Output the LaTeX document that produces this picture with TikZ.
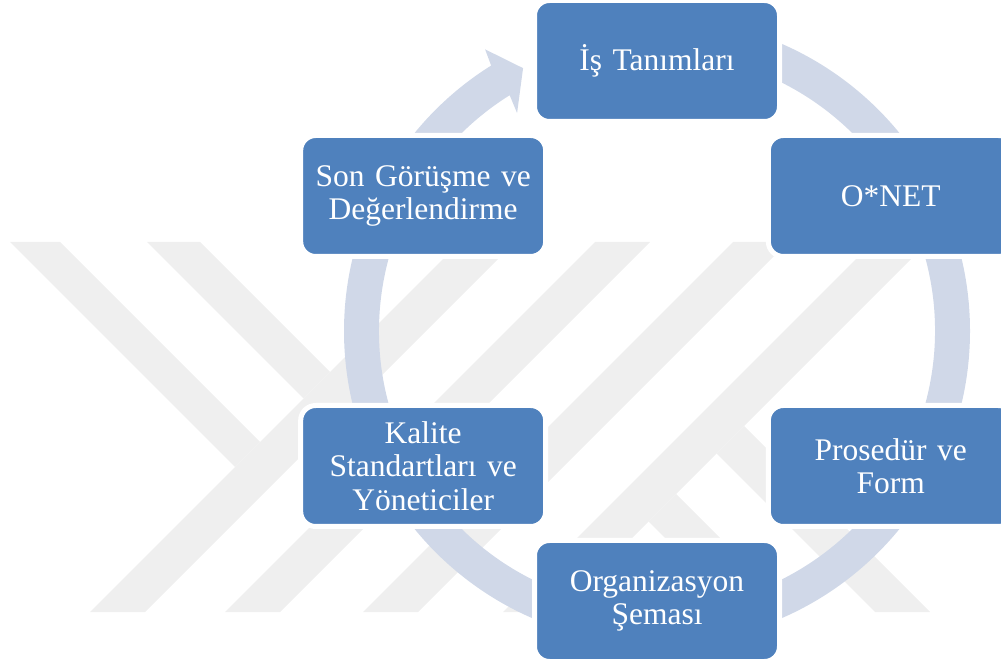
\documentclass[tikz,border=0pt]{standalone}
\usepackage{fontspec}
\setmainfont{Liberation Serif}
\definecolor{boxblue}{HTML}{4F81BD}
\definecolor{ringblue}{HTML}{D0D8E8}
\definecolor{markgray}{HTML}{EFEFEF}

\begin{document}
\begin{tikzpicture}[x=1pt, y=1pt,
    cyclebox/.style={rectangle, rounded corners=15pt, fill=boxblue, draw=white, line width=5pt,
      minimum width=245pt, minimum height=121pt, text width=226pt, align=center,
      inner sep=0pt, text=white, font=\fontsize{31.5}{33.5}\selectfont},
    markband/.style={fill=markgray}]
  \useasboundingbox (0,0) rectangle (1001,664);
  % faint background mark
  \begin{scope}
    \clip (0,52) rectangle (1001,422);
    \fill[markband] (90,52) -- (145,52) -- (515,422) -- (460,422) -- cycle;
    \fill[markband] (225,52) -- (280,52) -- (650,422) -- (595,422) -- cycle;
    \fill[markband] (363,52) -- (418,52) -- (788,422) -- (733,422) -- cycle;
    \fill[markband] (503,52) -- (558,52) -- (928,422) -- (873,422) -- cycle;
    \fill[markband] (10,422) -- (60,422) -- (260,222) -- (235,197) -- cycle;
    \fill[markband] (147,422) -- (200,422) -- (330,292) -- (303.5,265.5) -- cycle;
    \fill[markband] (744,238) -- (930,52) -- (875,52) -- (716.5,210.5) -- cycle;
    \fill[markband] (676,170) -- (794,52) -- (739,52) -- (648.5,142.5) -- cycle;
  \end{scope}
  \begin{scope}[shift={(657,333)}]
    % ring with arrow head
    \fill[ringblue] (90:313) arc[start angle=90, end angle=-238, radius=313]
      -- (-238.6:330) -- (-243:295) -- (-237.3:259) -- (-238:278)
      arc[start angle=-238, end angle=90, radius=278] -- cycle;
    \node[cyclebox] (isTanim) at (90:270) {İş Tanımları};
    \node[cyclebox] (onet) at (30:270) {O*NET};
    \node[cyclebox] (prosedur) at (-30:270) {Prosedür ve\\Form};
    \node[cyclebox] (organizasyon) at (-90:270) {Organizasyon\\Şeması};
    \node[cyclebox] (kalite) at (-150:270) {Kalite\\Standartları ve\\Yöneticiler};
    \node[cyclebox] (sonGorusme) at (150:270) {Son Görüşme ve\\Değerlendirme};
  \end{scope}
\end{tikzpicture}
\end{document}
